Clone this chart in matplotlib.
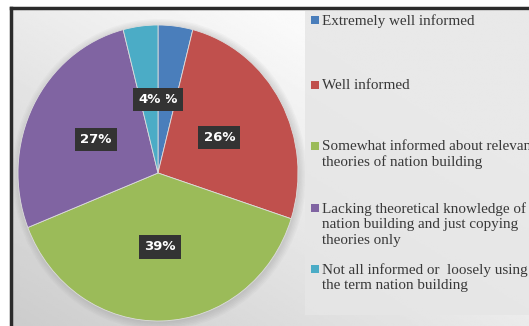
import numpy as np
import matplotlib
matplotlib.use("Agg")
import matplotlib.pyplot as plt
from matplotlib.patches import Rectangle, Ellipse

# data
categories = [
    "Extremely well informed",
    "Well informed",
    "Somewhat informed about relevant\ntheories of nation building",
    "Lacking theoretical knowledge of\nnation building and just copying\ntheories only",
    "Not all informed or  loosely using\nthe term nation building",
]
shares = [4, 26, 39, 27, 4]
colors = ["#4A7EBB", "#C0504D", "#9BBB59", "#8064A2", "#4BACC6"]

W, H = 529, 326
fig = plt.figure(figsize=(W / 100, H / 100), dpi=100)
fig.patch.set_facecolor("white")

# ======= background panel with soft gradient =======
bg = fig.add_axes([11 / W, 0, 1 - 11 / W, (H - 8) / H])
yy, xx = np.mgrid[0:1:200j, 0:1:300j]
grad = np.clip(0.80 + 0.12 * yy + 0.12 * xx, 0, 0.98)
bg.imshow(grad, cmap="gray", vmin=0, vmax=1, origin="lower",
          aspect="auto", extent=[0, 1, 0, 1])
bg.set_xticks([])
bg.set_yticks([])
for s in ["right", "bottom"]:
    bg.spines[s].set_visible(False)
for s in ["top", "left"]:
    bg.spines[s].set_color("#2b2b2b")
    bg.spines[s].set_linewidth(2.5)

# legend panel
fig.patches.append(Rectangle((305 / W, (H - 315) / H), 1, (315 - 11) / H,
                             transform=fig.transFigure,
                             facecolor="#e6e6e6", edgecolor="none", alpha=0.85))

# ======= pie =======
ax = fig.add_axes([18 / W, 5 / H, 280 / W, 296 / H])
ax.patch.set_alpha(0)

# soft shadow around pie
for k in range(6):
    ax.add_patch(Ellipse((0.01, -0.01), 2 + 0.02 * k, 2 + 0.02 * k,
                         facecolor="#666666", edgecolor="none",
                         alpha=0.04, zorder=0, clip_on=False))

wedges, texts, autotexts = ax.pie(
    shares, colors=colors, startangle=90, counterclock=False,
    autopct=lambda p: f"{p:.0f}%", pctdistance=0.5,
    wedgeprops=dict(linewidth=0.6, edgecolor="#dddddd"),
    textprops=dict(color="white", fontsize=9.5, fontweight="bold",
                   family="DejaVu Sans"),
)
for t in autotexts:
    t.set_bbox(dict(boxstyle="square,pad=0.4", facecolor="#333333",
                    edgecolor="none"))
ax.set_aspect("auto")
ax.set_xlim(-1, 1)
ax.set_ylim(-1, 1)
ax.axis("off")

# ======= legend (manual, uneven spacing like the source) =======
first_line_y = [20, 85, 146, 208, 269]
for label, col, yc in zip(categories, colors, first_line_y):
    fig.patches.append(Rectangle((311 / W, (H - yc - 4) / H), 8 / W, 8 / H,
                                 transform=fig.transFigure,
                                 facecolor=col, edgecolor="none"))
    fig.text(322 / W, (H - yc + 6) / H, label, ha="left", va="top",
             fontsize=10.9, family="Liberation Serif", color="#383838",
             linespacing=1.25)

fig.savefig("out.png", dpi=100)
